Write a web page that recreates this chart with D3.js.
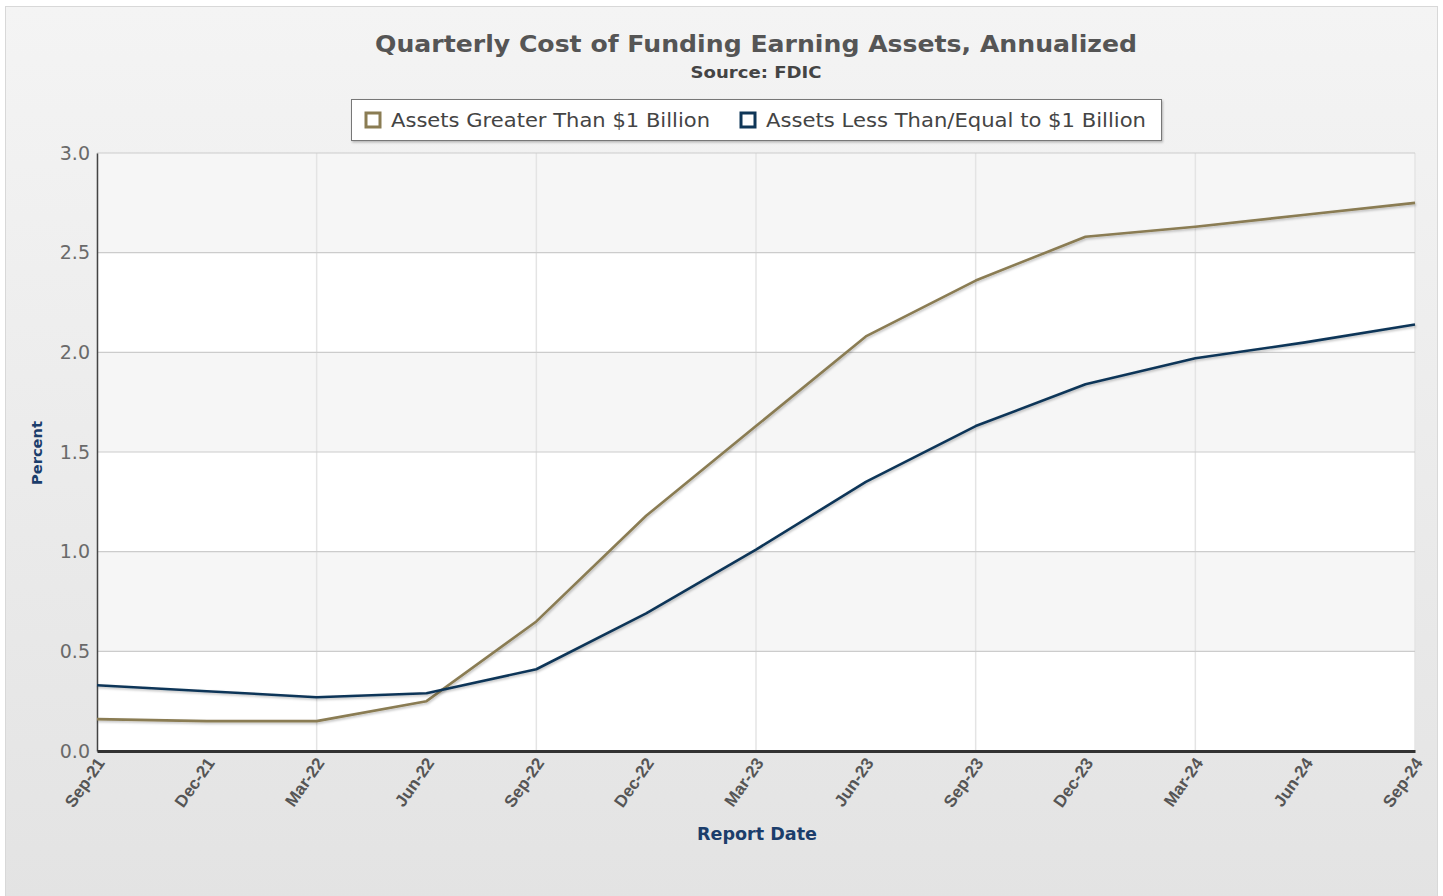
<!DOCTYPE html>
<html>
<head>
<meta charset="utf-8">
<script src="https://cdn.jsdelivr.net/npm/d3@7/dist/d3.min.js"></script>
<style>
  html, body { margin: 0; padding: 0; background: #ffffff; }
  svg { display: block; }
</style>
</head>
<body>
<div id="chart"></div>
<script>
// ---- data ----
const categories = ["Sep-21","Dec-21","Mar-22","Jun-22","Sep-22","Dec-22","Mar-23","Jun-23","Sep-23","Dec-23","Mar-24","Jun-24","Sep-24"];
const seriesNames = ["Assets Greater Than $1 Billion", "Assets Less Than/Equal to $1 Billion"];
const greaterThan1B = [0.16, 0.15, 0.15, 0.25, 0.65, 1.18, 1.63, 2.08, 2.36, 2.58, 2.63, 2.69, 2.75];
const lessEqual1B   = [0.33, 0.30, 0.27, 0.29, 0.41, 0.69, 1.01, 1.35, 1.63, 1.84, 1.97, 2.05, 2.14];
const yTicks = [0, 0.5, 1.0, 1.5, 2.0, 2.5, 3.0];
const titleText = "Quarterly Cost of Funding Earning Assets, Annualized";
const subtitleText = "Source: FDIC";
const xTitle = "Report Date";
const yTitle = "Percent";

const colors = ["#8a7c53", "#0f3658"];

const W = 1443, H = 896;
const plot = { left: 97, right: 1415, top: 153, bottom: 751 };

const svg = d3.select("#chart").append("svg").attr("width", W).attr("height", H);
const defs = svg.append("defs");

const grad = defs.append("linearGradient").attr("id", "bg").attr("x1", 0).attr("y1", 0).attr("x2", 0).attr("y2", 1);
grad.append("stop").attr("offset", "0%").attr("stop-color", "#f4f4f4");
grad.append("stop").attr("offset", "100%").attr("stop-color", "#e3e3e3");

const shadow = defs.append("filter").attr("id", "shadow").attr("x", "-5%").attr("y", "-5%").attr("width", "110%").attr("height", "120%");
shadow.append("feDropShadow").attr("dx", 1).attr("dy", 1.5).attr("stdDeviation", 1).attr("flood-color", "#000").attr("flood-opacity", 0.25);

// container
svg.append("rect").attr("x", 5.5).attr("y", 6.5).attr("width", 1432).attr("height", H)
  .attr("fill", "url(#bg)").attr("stroke", "#d8d8d8").attr("stroke-width", 1);

const x = d3.scalePoint().domain(categories).range([plot.left, plot.right]);
const y = d3.scaleLinear().domain([0, 3]).range([plot.bottom, plot.top]);

// alternating bands
const g = svg.append("g");
for (let i = 0; i < yTicks.length - 1; i++) {
  g.append("rect")
    .attr("x", plot.left).attr("width", plot.right - plot.left)
    .attr("y", y(yTicks[i + 1])).attr("height", y(yTicks[i]) - y(yTicks[i + 1]))
    .attr("fill", i % 2 === 0 ? "#ffffff" : "#f6f6f6");
}

// vertical grid (every other quarter)
g.selectAll(".vgrid").data(categories.filter((d, i) => i % 2 === 0)).enter().append("line")
  .attr("x1", d => x(d)).attr("x2", d => x(d))
  .attr("y1", plot.top).attr("y2", plot.bottom)
  .attr("stroke", "#e4e4e4").attr("stroke-width", 1.5);

// horizontal grid
g.selectAll(".hgrid").data(yTicks).enter().append("line")
  .attr("x1", plot.left).attr("x2", plot.right)
  .attr("y1", d => y(d)).attr("y2", d => y(d))
  .attr("stroke", "#cccccc").attr("stroke-width", 1.2);

// y axis
const yAxis = d3.axisLeft(y).tickValues(yTicks).tickFormat(d3.format(".1f")).tickSize(0).tickPadding(7);
const yg = svg.append("g").attr("transform", `translate(${plot.left},0)`).call(yAxis);
yg.select(".domain").attr("stroke", "#444").attr("stroke-width", 1.5);
yg.selectAll("text").attr("font-family", "DejaVu Sans, Verdana, sans-serif").attr("font-size", 19).attr("fill", "#6a6a6a");

// x axis
const xAxis = d3.axisBottom(x).tickSize(0).tickPadding(0);
const xg = svg.append("g").attr("transform", `translate(0,${plot.bottom})`).call(xAxis);
xg.select(".domain").attr("stroke", "#333").attr("stroke-width", 3);
xg.selectAll("text")
  .attr("font-family", "Liberation Sans, Arial, sans-serif").attr("font-size", 17).attr("font-weight", "bold")
  .attr("fill", "#555")
  .attr("text-anchor", "end")
  .attr("dy", null).attr("y", 0)
  .attr("transform", "translate(8,12) rotate(-55)");

// lines
const line = d3.line().x((d, i) => x(categories[i])).y(d => y(d));
[greaterThan1B, lessEqual1B].forEach((vals, k) => {
  svg.append("path").datum(vals)
    .attr("d", line).attr("fill", "none")
    .attr("stroke", colors[k]).attr("stroke-width", 2.6)
    .attr("stroke-linejoin", "round")
    .attr("filter", "url(#shadow)");
});

// titles
svg.append("text").attr("x", 756).attr("y", 52).attr("text-anchor", "middle")
  .attr("font-family", "DejaVu Sans, Verdana, sans-serif").attr("font-weight", "bold").attr("font-size", 23)
  .attr("fill", "#555").attr("textLength", 762).attr("lengthAdjust", "spacingAndGlyphs").text(titleText);
svg.append("text").attr("x", 756).attr("y", 78).attr("text-anchor", "middle")
  .attr("font-family", "DejaVu Sans, Verdana, sans-serif").attr("font-weight", "bold").attr("font-size", 15)
  .attr("fill", "#444").attr("textLength", 131).attr("lengthAdjust", "spacingAndGlyphs").text(subtitleText);

// axis titles
svg.append("text").attr("x", 757).attr("y", 840).attr("text-anchor", "middle")
  .attr("font-family", "DejaVu Sans, Verdana, sans-serif").attr("font-weight", "bold").attr("font-size", 17)
  .attr("fill", "#1b3d6b").attr("textLength", 120).attr("lengthAdjust", "spacingAndGlyphs").text(xTitle);
svg.append("text").attr("transform", "translate(42,453) rotate(-90)").attr("text-anchor", "middle")
  .attr("font-family", "DejaVu Sans, Verdana, sans-serif").attr("font-weight", "bold").attr("font-size", 14)
  .attr("fill", "#1b3d6b").attr("textLength", 64).attr("lengthAdjust", "spacingAndGlyphs").text(yTitle);

// legend
const lg = svg.append("g");
lg.append("rect").attr("x", 351.5).attr("y", 99.5).attr("width", 810).attr("height", 41)
  .attr("fill", "#fff").attr("stroke", "#777").attr("stroke-width", 1).attr("filter", "url(#shadow)");
const legendItems = [
  { sx: 366, tx: 391, tw: 319 },
  { sx: 741, tx: 766, tw: 380 }
];
legendItems.forEach((it, k) => {
  lg.append("rect").attr("x", it.sx).attr("y", 113).attr("width", 14).attr("height", 14)
    .attr("fill", "#fff").attr("stroke", colors[k]).attr("stroke-width", 3);
  lg.append("text").attr("x", it.tx).attr("y", 127)
    .attr("font-family", "DejaVu Sans, Verdana, sans-serif").attr("font-size", 19).attr("fill", "#444")
    .attr("textLength", it.tw).attr("lengthAdjust", "spacingAndGlyphs").text(seriesNames[k]);
});
</script>
</body>
</html>
